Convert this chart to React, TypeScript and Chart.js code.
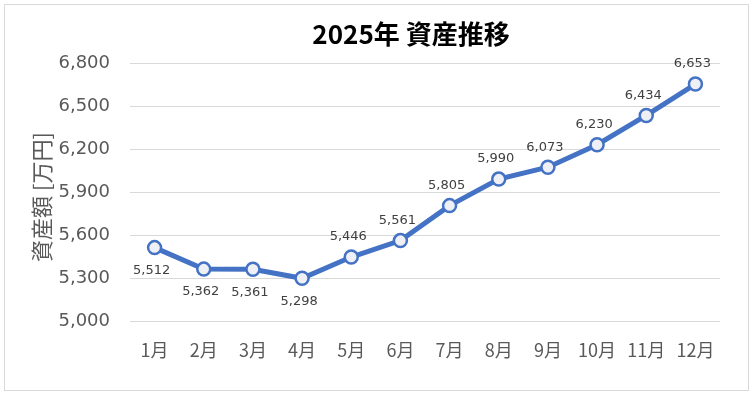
import React, { useEffect, useRef } from "react";
import { Chart, registerables } from "chart.js";

Chart.register(...registerables);

const months = ["1月", "2月", "3月", "4月", "5月", "6月", "7月", "8月", "9月", "10月", "11月", "12月"];
const assets = [5512, 5362, 5361, 5298, 5446, 5561, 5805, 5990, 6073, 6230, 6434, 6653];
const labelBelow = [true, true, true, true, false, false, false, false, false, false, false, false];
const chartTitle = "2025年 資産推移";
const yAxisTitle = "資産額 [万円]";
const yMin = 5000;
const yMax = 6800;
const yStep = 300;

const W = 753;
const H = 397;

const decorPlugin = {
  id: "decor",
  beforeDraw(chart: any) {
    const ctx = chart.ctx;
    ctx.save();
    ctx.fillStyle = "#ffffff";
    ctx.fillRect(0, 0, W, H);
    ctx.strokeStyle = "#D9D9D9";
    ctx.lineWidth = 1;
    ctx.strokeRect(4.5, 4.5, 744, 386);
    ctx.restore();
  },
  afterDraw(chart: any) {
    const ctx = chart.ctx;
    ctx.save();
    // title
    ctx.fillStyle = "#000000";
    ctx.font = "bold 26px 'Noto Sans CJK JP', 'Noto Sans', sans-serif";
    ctx.textAlign = "center";
    ctx.textBaseline = "middle";
    ctx.fillText(chartTitle, 411, 34);
    // y axis title
    ctx.save();
    ctx.translate(42, 197);
    ctx.rotate(-Math.PI / 2);
    ctx.fillStyle = "#595959";
    ctx.font = "22px 'Noto Sans CJK JP', sans-serif";
    ctx.fillText(yAxisTitle, 0, 0);
    ctx.restore();
    // data labels
    const meta = chart.getDatasetMeta(0);
    ctx.fillStyle = "#404040";
    ctx.font = "13px 'DejaVu Sans', sans-serif";
    meta.data.forEach((pt: any, i: number) => {
      const v = assets[i];
      const txt = v.toLocaleString("en-US");
      const dy = labelBelow[i] ? 23 : -20;
      ctx.fillText(txt, pt.x - 3, pt.y + dy);
    });
    ctx.restore();
  },
};

export default function App() {
  const ref = useRef<HTMLCanvasElement | null>(null);
  useEffect(() => {
    document.body.style.margin = "0";
    const canvas = ref.current!;
    const chart = new Chart(canvas, {
      type: "line",
      data: {
        labels: months,
        datasets: [
          {
            data: assets,
            borderColor: "#4472C4",
            borderWidth: 5,
            pointRadius: 6.5,
            pointBorderWidth: 2.5,
            pointBackgroundColor: "#EEF0F6",
            pointBorderColor: "#4472C4",
            tension: 0,
          },
        ],
      },
      options: {
        responsive: false,
        animation: false,
        devicePixelRatio: 1,
        layout: { padding: { left: 0, right: 33, top: 63, bottom: 0 } },
        plugins: { legend: { display: false }, title: { display: false }, tooltip: { enabled: false } },
        scales: {
          x: {
            offset: true,
            grid: { display: false, drawTicks: false },
            border: { display: false },
            ticks: {
              color: "#595959",
              font: { family: "'Noto Sans CJK JP', sans-serif", size: 18 },
              padding: 18,
              maxRotation: 0,
              autoSkip: false,
            },
            afterFit(scale: any) {
              scale.height = 76;
            },
          },
          y: {
            min: yMin,
            max: yMax,
            grid: { color: "#D9D9D9", drawTicks: false, lineWidth: 1 },
            border: { display: false },
            ticks: {
              stepSize: yStep,
              color: "#595959",
              font: { family: "'DejaVu Sans', sans-serif", size: 18 },
              padding: 20,
              callback: (v: any) => Number(v).toLocaleString("en-US"),
            },
            afterFit(scale: any) {
              scale.width = 130;
            },
          },
        },
      },
      plugins: [decorPlugin],
    });
    return () => chart.destroy();
  }, []);
  return (
    <div style={{ width: W, height: H }}>
      <canvas ref={ref} width={W} height={H} style={{ display: "block", width: W, height: H }} />
    </div>
  );
}
